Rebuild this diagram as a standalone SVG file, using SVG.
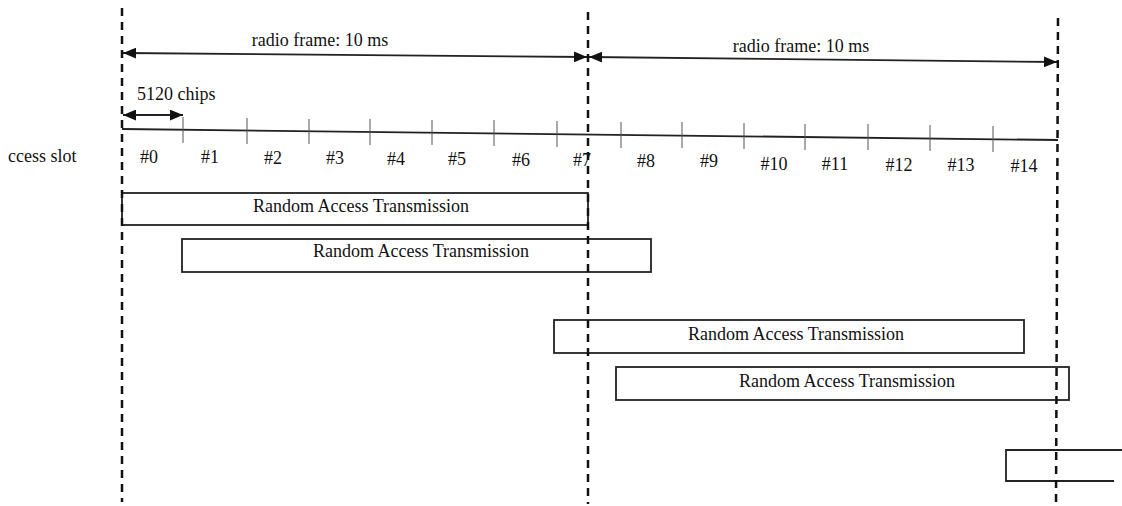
<svg xmlns="http://www.w3.org/2000/svg" width="1122" height="506" viewBox="0 0 1122 506">
<style>
text{font-family:"Liberation Serif","Times New Roman",serif;fill:#111;font-size:18px}
.m{text-anchor:middle}
.dash{stroke:#111;stroke-width:2.5;stroke-dasharray:8,6;fill:none}
.ln{stroke:#222;stroke-width:1.8;fill:none}
.tk{stroke:#555;stroke-width:1}
.box{fill:#fff;stroke:#222;stroke-width:1.8}
</style>
<defs>
<marker id="ah" viewBox="0 0 12 10" refX="12" refY="5" markerWidth="13" markerHeight="11" markerUnits="userSpaceOnUse" orient="auto-start-reverse">
<path d="M0,0 L12,5 L0,10 Z" fill="#111"/>
</marker>
</defs>
<g id="connectors">
<line class="ln" x1="123" y1="53" x2="587" y2="57" marker-start="url(#ah)" marker-end="url(#ah)"/>
<line class="ln" x1="589" y1="57" x2="1057" y2="62" marker-start="url(#ah)" marker-end="url(#ah)"/>
<line class="ln" x1="123" y1="115" x2="183" y2="115" marker-start="url(#ah)" marker-end="url(#ah)"/>
</g>
<g id="timeline">
<line class="ln" x1="122" y1="129" x2="1058" y2="140"/>
<g class="tk">
<line x1="183" y1="117" x2="183" y2="143"/>
<line x1="247" y1="118" x2="247" y2="144"/>
<line x1="309" y1="119" x2="309" y2="144"/>
<line x1="370" y1="119" x2="370" y2="145"/>
<line x1="432" y1="120" x2="432" y2="145"/>
<line x1="494" y1="120" x2="494" y2="146"/>
<line x1="557" y1="121" x2="557" y2="147"/>
<line x1="621" y1="122" x2="621" y2="148"/>
<line x1="682" y1="122" x2="682" y2="148"/>
<line x1="744" y1="123" x2="744" y2="149"/>
<line x1="805" y1="124" x2="805" y2="150"/>
<line x1="868" y1="124" x2="868" y2="150"/>
<line x1="930" y1="125" x2="930" y2="151"/>
<line x1="993" y1="126" x2="993" y2="152"/>
</g>
<text x="8" y="162">ccess slot</text>
<text class="m" x="149" y="163">#0</text>
<text class="m" x="210" y="163">#1</text>
<text class="m" x="273" y="164">#2</text>
<text class="m" x="335" y="164">#3</text>
<text class="m" x="396" y="165">#4</text>
<text class="m" x="457" y="165">#5</text>
<text class="m" x="521" y="166">#6</text>
<text class="m" x="582" y="166">#7</text>
<text class="m" x="646" y="167">#8</text>
<text class="m" x="709" y="167">#9</text>
<text class="m" x="774" y="170">#10</text>
<text class="m" x="835" y="170">#11</text>
<text class="m" x="899" y="171">#12</text>
<text class="m" x="961" y="171">#13</text>
<text class="m" x="1024" y="172">#14</text>
</g>
<g id="labels">
<text class="m" x="320" y="46">radio frame: 10 ms</text>
<text class="m" x="801" y="52">radio frame: 10 ms</text>
<text x="137" y="100">5120 chips</text>
</g>
<g id="rat1">
<rect class="box" x="122" y="193" width="466" height="32"/>
<text class="m" x="361" y="212">Random Access Transmission</text>
</g>
<g id="rat2">
<rect class="box" x="182" y="239" width="469" height="33"/>
<text class="m" x="421" y="257">Random Access Transmission</text>
</g>
<g id="rat3">
<rect class="box" x="554" y="320" width="470" height="33"/>
<text class="m" x="796" y="340">Random Access Transmission</text>
</g>
<g id="rat4">
<rect class="box" x="616" y="367" width="453" height="33"/>
<text class="m" x="847" y="387">Random Access Transmission</text>
</g>
<g id="rat5">
<path class="ln" d="M1122,450 L1006,450 L1006,481 L1114,481"/>
</g>
<g id="frame-boundaries">
<line class="dash" x1="122" y1="8" x2="122" y2="502"/>
<line class="dash" x1="588" y1="12" x2="588" y2="504"/>
<line class="dash" x1="1058" y1="18" x2="1056" y2="504"/>
</g>
</svg>
